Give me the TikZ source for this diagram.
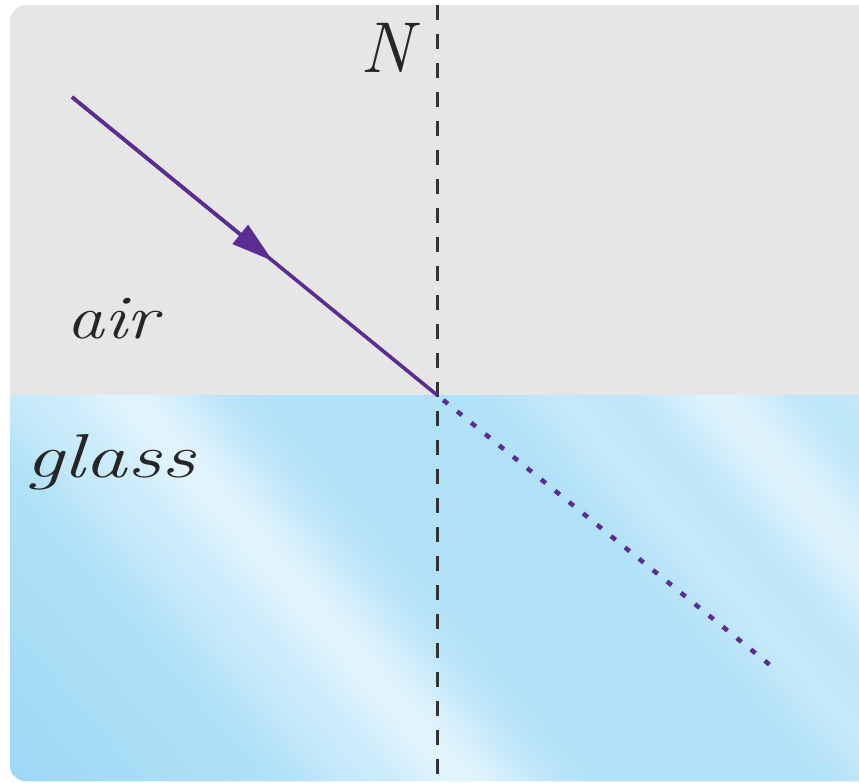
\documentclass[tikz,border=0pt]{standalone}
\usetikzlibrary{arrows.meta,calc}
\definecolor{airgray}{HTML}{E6E6E6}
\definecolor{glassblue}{HTML}{B0E1F7}
\definecolor{glassdeep}{HTML}{9DD7F4}
\definecolor{glasslight}{HTML}{E4F5FD}
\definecolor{raypurple}{HTML}{5B2C92}
\tikzset{
  normalline/.style={black!80, line width=3pt, dash pattern=on 15pt off 14pt},
  ray/.style={raypurple, line width=3.6pt},
  dotray/.style={raypurple, line width=4.5pt, dash pattern=on 6pt off 12pt, dash phase=-8pt},
  label/.style={font=\itshape\fontsize{62}{62}\selectfont, text=black!85, inner sep=0pt, anchor=base west}
}
\begin{document}
\begin{tikzpicture}[x=1pt,y=-1pt]
\useasboundingbox (0,0) rectangle (859,782);
\begin{scope}
  \clip (0,0) rectangle (859,782);
  \clip[rounded corners=16pt] (10,5) rectangle (875,781);
  \fill[airgray] (0,0) rectangle (880,395);
  \fill[glassblue] (0,395) rectangle (880,790);
  % soft diagonal streaks in the glass
  \foreach \u in {-360,-357,...,880}{
    \pgfmathtruncatemacro{\dk}{100*0.9*exp(max(-9,-((\u+340)/180)^2))}
    \pgfmathtruncatemacro{\lt}{min(100,100*(0.95*exp(max(-9,-((\u-125)/80)^2))
       + 0.9*exp(max(-9,-((\u-715)/75)^2))
       + 0.4*exp(max(-9,-((\u-560)/55)^2))
       + 0.4*exp(max(-9,-((\u-880)/60)^2))
       + 0.3*exp(max(-9,-((\u-10)/45)^2))))}
    \colorlet{basec}{glassdeep!\dk!glassblue}
    \fill[glasslight!\lt!basec] (\u,395) -- ++(4,0) -- ++(344,395) -- ++(-4,0) -- cycle;
  }
\end{scope}
\coordinate (top) at (437,5);
\coordinate (bot) at (437,782);
\coordinate (A) at (72,97);
\coordinate (O) at (437,395);
\coordinate (E) at (770,665);
\draw[normalline] (top) -- (bot);
\draw[ray] (A) -- (O);
\draw[ray, -{Triangle[length=42pt,width=24pt]}] (A) -- ($(A)!0.55!(O)$);
\draw[dotray] (O) -- (E);
\node[label, font=\itshape\fontsize{72}{72}\selectfont] (N) at (360,72) {N};
\node[label] (air) at (66,338) {\scalebox{1.22}[1]{air}};
\node[label] (glass) at (25,477) {\scalebox{1.37}[1]{glass}};
\end{tikzpicture}
\end{document}
